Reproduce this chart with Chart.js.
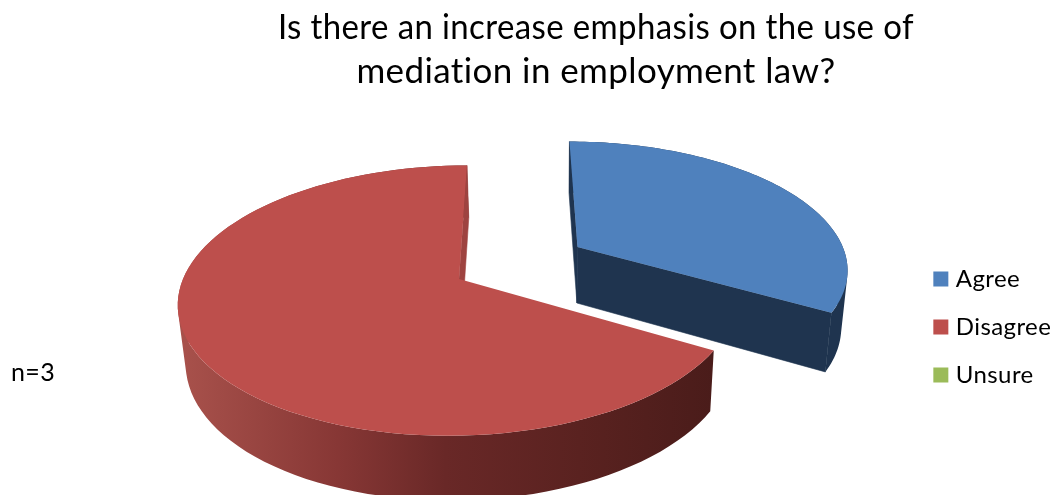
<!DOCTYPE html>
<html>
<head>
<meta charset="utf-8">
<style>
  html, body { margin: 0; padding: 0; background: #fff; }
  #wrap { width: 1052px; height: 495px; position: relative; overflow: hidden; }
</style>
<script src="https://cdn.jsdelivr.net/npm/chart.js@4"></script>
</head>
<body>
<div id="wrap"><canvas id="chart" width="1052" height="495"></canvas></div>
<script>
const categories = ['Agree', 'Disagree', 'Unsure'];
const responses = [1, 2, 0];
const titleLines = ['Is there an increase emphasis on the use of', 'mediation in employment law?'];
const sampleNote = 'n=3';

const topColors = ['#4f81bd', '#bd4f4c', '#9bbb59'];
const faceColors = ['#1f344f', '#9e4340', '#5d7033'];
const FONT = 'Lato, "Open Sans", sans-serif';
const TRACKING = '0.4px';

// Ground-plane perspective used to lay the pie flat with a visible rim.
const view = {
  apexX: 459, apexY: 279,
  vanishX: 517, vanishY: -544,
  tilt: 0.16, radius: 276,
  rimBase: 19.5, rimScale: 38,
  rimTaper: 0.0214, rimCentre: 550,
  pulledOut: { Agree: 0.506 }
};

function project(u, v, lower) {
  const s = 1 / (1 - view.tilt * v);
  let x = view.vanishX + (view.apexX - view.vanishX + view.radius * u) * s;
  let y = view.vanishY + (view.apexY - view.vanishY) * s;
  if (lower) {
    y += view.rimBase + view.rimScale * s;
    x -= view.rimTaper * (x - view.rimCentre);
  }
  return [x, y];
}

function signedArea(pts) {
  let sum = 0;
  pts.forEach((p, i) => {
    const q = pts[(i + 1) % pts.length];
    sum += p[0] * q[1] - q[0] * p[1];
  });
  return sum / 2;
}

function tracePoly(ctx, pts) {
  pts.forEach((p, i) => (i ? ctx.lineTo(p[0], p[1]) : ctx.moveTo(p[0], p[1])));
  ctx.closePath();
}

function fillPoly(ctx, pts, fill) {
  ctx.beginPath();
  tracePoly(ctx, pts);
  ctx.fillStyle = fill;
  ctx.fill();
}

function rimFill(ctx, index) {
  if (index !== 1) return faceColors[index];
  const g = ctx.createLinearGradient(177, 0, 714, 0);
  g.addColorStop(0, '#a9524c');
  g.addColorStop(0.3, '#873735');
  g.addColorStop(0.5, '#692827');
  g.addColorStop(0.75, '#5a2220');
  g.addColorStop(1, '#4a1c1a');
  return g;
}

function drawSlice(ctx, arc, index) {
  const start = arc.startAngle + Math.PI / 2;
  const end = arc.endAngle + Math.PI / 2;
  if (end - start < 1e-6) return;
  const mid = (start + end) / 2;
  const pull = view.pulledOut[categories[index]] || 0;
  const ou = pull * Math.sin(mid), ov = -pull * Math.cos(mid);

  const steps = 96;
  const upper = [], lower = [];
  for (let i = 0; i <= steps; i++) {
    const a = start + (end - start) * i / steps;
    const u = ou + Math.sin(a), v = ov - Math.cos(a);
    upper.push(project(u, v, false));
    lower.push(project(u, v, true));
  }
  const apexUp = project(ou, ov, false);
  const apexLow = project(ou, ov, true);

  // Curved rim: one consistently wound quad per step, so the fold at the
  // silhouette fills out to the tangent between the two arcs.
  ctx.beginPath();
  for (let i = 0; i < steps; i++) {
    const quad = [upper[i], upper[i + 1], lower[i + 1], lower[i]];
    tracePoly(ctx, signedArea(quad) < 0 ? quad.reverse() : quad);
  }
  ctx.fillStyle = rimFill(ctx, index);
  ctx.fill();

  // Only the cut faces turned towards the viewer are painted.
  const startFace = [apexUp, upper[0], lower[0], apexLow];
  const endFace = [apexUp, upper[steps], lower[steps], apexLow];
  [[startFace, signedArea(startFace) < 0], [endFace, signedArea(endFace) > 0]].forEach(([face, visible]) => {
    if (!visible) return;
    fillPoly(ctx, face, faceColors[index]);
    ctx.strokeStyle = faceColors[index];
    ctx.lineWidth = 0.6;
    ctx.stroke();
  });

  fillPoly(ctx, [apexUp].concat(upper), topColors[index]);
}

const tiltedPie = {
  id: 'tiltedPie',
  beforeDraw(chart) {
    // Keeps "ti" from joining into a ligature in the labels.
    chart.ctx.letterSpacing = TRACKING;
  },
  beforeDatasetDraw(chart, args) {
    const arcs = chart.getDatasetMeta(args.index).data;
    const ctx = chart.ctx;
    ctx.save();
    arcs.forEach((arc, i) => drawSlice(ctx, arc, i));
    ctx.restore();
    return false;
  },
  afterDraw(chart) {
    const ctx = chart.ctx;
    ctx.save();
    ctx.fillStyle = '#000';
    ctx.font = '25px ' + FONT;
    ctx.textAlign = 'left';
    ctx.textBaseline = 'alphabetic';
    ctx.fillText(sampleNote, 11, 381);
    ctx.restore();
  }
};

document.getElementById('chart').getContext('2d').letterSpacing = TRACKING;

new Chart(document.getElementById('chart'), {
  type: 'pie',
  data: {
    labels: categories,
    datasets: [{ data: responses, backgroundColor: topColors, borderWidth: 0 }]
  },
  options: {
    responsive: false,
    animation: false,
    events: [],
    layout: { padding: { left: 278, right: -6, top: 0, bottom: 0 } },
    plugins: {
      tooltip: { enabled: false },
      title: {
        display: true,
        text: titleLines,
        fullSize: false,
        color: '#000',
        font: { family: FONT, size: 35, weight: 'normal', lineHeight: 1.26 },
        padding: { top: 6, bottom: 65 }
      },
      legend: {
        position: 'right',
        fullSize: false,
        labels: {
          color: '#000',
          font: { family: FONT, size: 24 },
          usePointStyle: true,
          pointStyle: 'rect',
          boxWidth: 6,
          boxHeight: 15,
          padding: 24
        }
      }
    }
  },
  plugins: [tiltedPie]
});
</script>
</body>
</html>
